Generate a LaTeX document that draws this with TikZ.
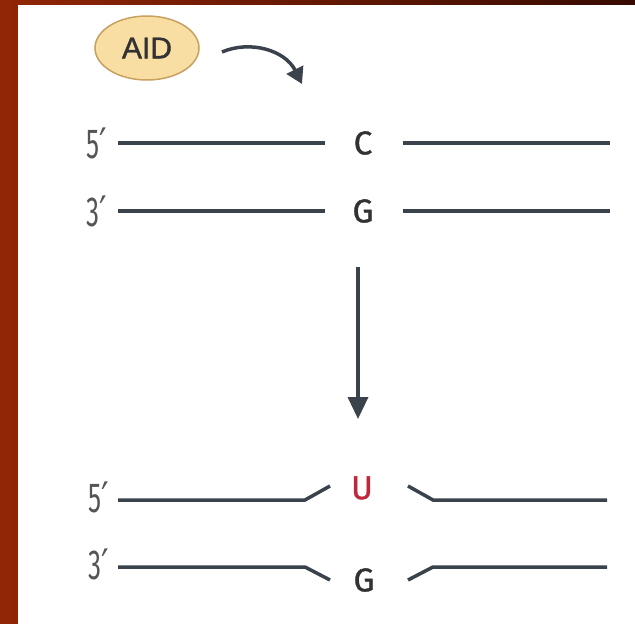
\documentclass[tikz,border=0pt]{standalone}
\usepackage{fontspec}
\setmainfont{Fira Sans}
\newfontfamily\primefont{Fira Sans}[FakeStretch=0.62]
\newfontfamily\primeglyph{DejaVu Sans}[FakeStretch=0.8]
\newfontfamily\basefont{Fira Sans}[FakeBold=1.2]
\newfontfamily\aidfont{Liberation Sans}[FakeBold=1.2]
\newcommand{\primemark}{{\primeglyph ′}}
\usetikzlibrary{arrows.meta,shapes.geometric}
\definecolor{bgleft}{RGB}{145,38,5}
\definecolor{bgright}{RGB}{55,10,2}
\definecolor{strand}{RGB}{58,66,76}
\definecolor{aidfill}{RGB}{249,222,164}
\definecolor{aiddraw}{RGB}{200,160,96}
\definecolor{labelgray}{RGB}{85,85,85}
\definecolor{basegray}{RGB}{50,50,50}
\definecolor{ured}{RGB}{190,40,60}
\begin{document}
\begin{tikzpicture}[x=1pt,y=-1pt,
  strandline/.style={draw=strand,line width=3.5pt},
  arrowline/.style={draw=strand,line width=3.5pt,-{Triangle[width=20pt,length=22pt]}},
  curvearrow/.style={draw=strand,line width=3.5pt,-{Triangle[width=18pt,length=16pt]}},
  endlabel/.style={inner sep=0pt,anchor=east,text=labelgray,font=\primefont\fontsize{42}{42}\selectfont},
  baselabel/.style={inner sep=0pt,text=basegray,font=\basefont\fontsize{33}{33}\selectfont},
  aidnode/.style={ellipse,draw=aiddraw,fill=aidfill,line width=1.5pt,minimum width=104pt,minimum height=64pt,inner sep=0pt,font=\aidfont\fontsize{30}{30}\selectfont,text=basegray}]
\useasboundingbox (0,0) rectangle (635,624);
% background
\shade[left color=bgleft,right color=bgright] (0,0) rectangle (635,624);
\fill[white] (18,5) rectangle (635,624);
% AID enzyme
\node[aidnode] (aid) at (147,48) {AID};
\coordinate (cstart) at (222,52);
\coordinate (cend) at (302,84);
\draw[curvearrow] (cstart) .. controls (250,40) and (285,50) .. (cend);
% top duplex
\node[endlabel] (t5) at (107,143) {5\primemark};
\node[endlabel] (t3) at (107,211) {3\primemark};
\node[baselabel] (c) at (363,143) {C};
\node[baselabel] (g1) at (363,211) {G};
\coordinate (t5a) at (118,143);
\coordinate (t5b) at (325,143);
\coordinate (t5c) at (403,143);
\coordinate (t5d) at (610,143);
\coordinate (t3a) at (118,211);
\coordinate (t3b) at (325,211);
\coordinate (t3c) at (403,211);
\coordinate (t3d) at (610,211);
\draw[strandline] (t5a) -- (t5b);
\draw[strandline] (t5c) -- (t5d);
\draw[strandline] (t3a) -- (t3b);
\draw[strandline] (t3c) -- (t3d);
% conversion arrow
\coordinate (atop) at (358,267);
\coordinate (abot) at (358,419);
\draw[arrowline] (atop) -- (abot);
% bottom duplex
\node[endlabel] (b5) at (109,497) {5\primemark};
\node[endlabel] (b3) at (109,564) {3\primemark};
\node[baselabel,text=ured] (u) at (362,488) {U};
\node[baselabel] (g2) at (364,580) {G};
\coordinate (b5a) at (118,500);
\coordinate (b5k) at (305,500);
\coordinate (b5s) at (330,486);
\coordinate (b5t) at (408,486);
\coordinate (b5l) at (433,500);
\coordinate (b5d) at (607,500);
\coordinate (b3a) at (118,567);
\coordinate (b3k) at (305,567);
\coordinate (b3s) at (330,580);
\coordinate (b3t) at (408,580);
\coordinate (b3l) at (433,567);
\coordinate (b3d) at (607,567);
\draw[strandline] (b5a) -- (b5k) -- (b5s);
\draw[strandline] (b5t) -- (b5l) -- (b5d);
\draw[strandline] (b3a) -- (b3k) -- (b3s);
\draw[strandline] (b3t) -- (b3l) -- (b3d);
\end{tikzpicture}
\end{document}
